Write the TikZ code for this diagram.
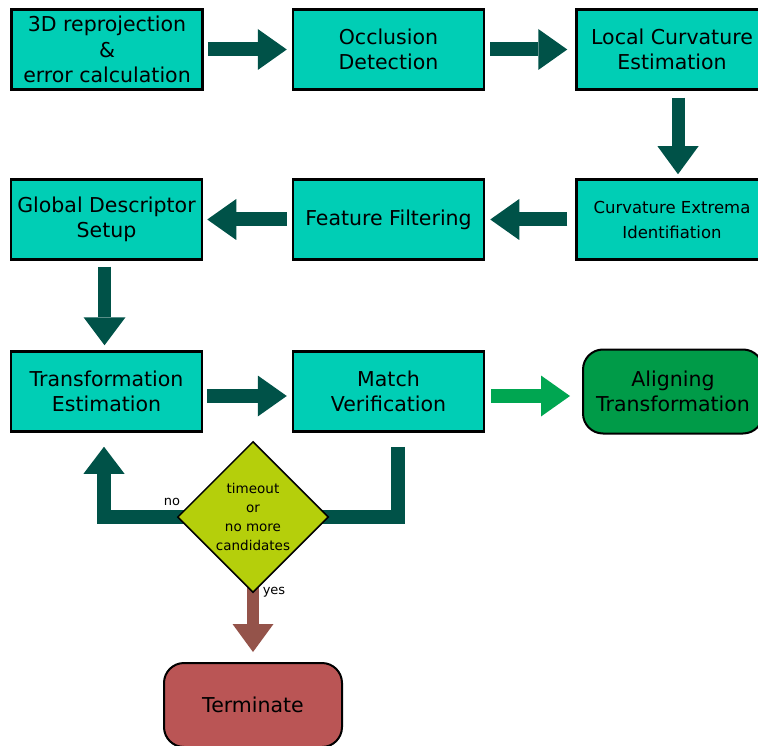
\documentclass[tikz,border=0pt]{standalone}
\usepackage{fontspec}
\setmainfont{DejaVu Sans}
\usetikzlibrary{shapes.geometric,arrows.meta,calc}
\definecolor{boxteal}{RGB}{0,206,181}
\definecolor{arrdark}{RGB}{0,82,72}
\definecolor{boxgreen}{RGB}{0,155,72}
\definecolor{arrgreen}{RGB}{0,166,81}
\definecolor{dlime}{RGB}{181,207,11}
\definecolor{arrbrown}{RGB}{148,83,74}
\definecolor{termred}{RGB}{186,85,85}
\begin{document}
\begin{tikzpicture}[x=1pt,y=-1pt,
  stepbox/.style={draw=black,line width=2.5pt,fill=boxteal,minimum width=191pt,minimum height=80pt,inner sep=0pt,align=center,font=\fontsize{20.5}{25.5}\selectfont},
  endbox/.style={draw=black,line width=2pt,rounded corners=20pt,inner sep=0pt,align=center,font=\fontsize{20.5}{25.5}\selectfont},
  blockarr/.style={line width=14pt,arrdark,-{Triangle[width=41pt,length=29pt,line width=0pt]}},
  lbl/.style={font=\fontsize{13}{15}\selectfont,inner sep=0pt}]
\useasboundingbox (0,0) rectangle (758,746);
% boxes
\node[stepbox] (b1) at (107,49.5) {3D reprojection\\\&\\error calculation};
\node[stepbox] (b2) at (388.5,49.5) {Occlusion\\Detection};
\node[stepbox] (b3) at (672,49.5) {Local Curvature\\Estimation};
\node[stepbox] (b4) at (106.5,219.5) {Global Descriptor\\Setup};
\node[stepbox] (b5) at (388.5,219.5) {Feature Filtering};
\node[stepbox,font=\fontsize{16.5}{25}\selectfont] (b6) at (672,219.5) {Curvature Extrema\\Identifiation};
\node[stepbox] (b7) at (106.5,391.5) {Transformation\\Estimation};
\node[stepbox] (b8) at (388.5,391.5) {Match\\Verification};
\node[endbox,fill=boxgreen,minimum width=180pt,minimum height=84pt] (b9) at (673,391.5) {Aligning\\Transformation};
\node[endbox,fill=termred,minimum width=178pt,minimum height=84pt] (b10) at (253,705) {Terminate};
% arrows
\draw[blockarr] ($(b1.east)+(4,0)$) -- ($(b2.west)+(-5,0)$);
\draw[blockarr] ($(b2.east)+(5,0)$) -- ($(b3.west)+(-8,0)$);
\draw[blockarr,-{Triangle[width=41pt,length=28pt,line width=0pt]},line width=13pt] ($(b3.south)+(6,7)$) -- ($(b6.north)+(6,-4)$);
\draw[blockarr] ($(b6.west)+(-8,0)$) -- ($(b5.east)+(5,0)$);
\draw[blockarr] ($(b5.west)+(-5,0)$) -- ($(b4.east)+(4,0)$);
\draw[blockarr,-{Triangle[width=42pt,length=28pt,line width=0pt]},line width=13pt] ($(b4.south)+(-2,6)$) -- ($(b7.north)+(-2,-5)$);
\draw[blockarr] ($(b7.east)+(4,4.5)$) -- ($(b8.west)+(-5,4.5)$);
\draw[blockarr,arrgreen] ($(b8.east)+(6,4.5)$) -- ($(b9.west)+(-12,4.5)$);
% loop
\coordinate (loopstart) at ($(b8.south)+(9,14)$);
\coordinate (looptip) at ($(b7.south)+(-2.5,14)$);
\coordinate (dc) at (253,517);
\draw[blockarr,line join=miter,-{Triangle[width=41pt,length=27pt,line width=0pt]}] (loopstart) |- (dc) -| (looptip);
\draw[blockarr,arrbrown,line width=12.5pt,-{Triangle[width=41pt,length=28pt,line width=0pt]}] (dc) -- ($(b10.north)+(0,-10)$);
% diamond
\node[draw=black,line width=1.5pt,fill=dlime,diamond,aspect=1,minimum width=151pt,minimum height=151pt,inner sep=0pt,align=center,font=\fontsize{13.5}{19}\selectfont] (d) at (dc) {timeout\\or\\no more\\candidates};
\node[lbl] (no) at (172,502) {no};
\node[lbl] (yes) at (274,592) {yes};
\end{tikzpicture}
\end{document}
